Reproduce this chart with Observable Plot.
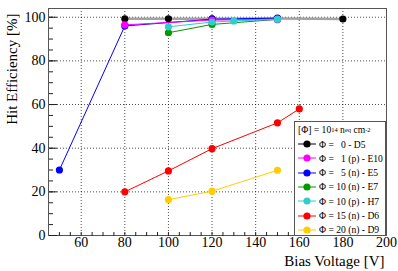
<!DOCTYPE html>
<html><head><meta charset="utf-8">
<script src="https://cdn.jsdelivr.net/npm/d3@7"></script>
<script src="https://cdn.jsdelivr.net/npm/@observablehq/plot@0.6"></script>
<style>
body{margin:0;background:#fff;font-family:"Liberation Serif","DejaVu Serif",serif;}
#wrap{position:relative;width:398px;height:271px;}
#legend{position:absolute;left:294px;top:121px;width:92px;height:115px;border:1px solid #555;background:#fff;box-sizing:border-box;font-family:"Liberation Serif","DejaVu Serif",serif;font-size:9.6px;color:#000;}
#legend .row{position:absolute;left:0;height:14px;display:flex;align-items:center;white-space:pre;}
#legend sup,#legend sub{font-size:6.5px;}
</style></head>
<body><div id="wrap"><div id="chart"></div><div id="legend"></div></div>
<script>
// Series (draw order)
const seriesNames = ["D5","E5","E7","E10","H7","D6","D9"];
const seriesColors = ["#000000","#0000ff","#009a00","#ff00ff","#33cccc","#ff0000","#ffcc00"];
const legendOrder = ["D5","E10","E5","E7","H7","D6","D9"];
const legendLabels = ["Φ =   0 - D5","Φ =   1 (p) - E10","Φ =   5 (n) - E5","Φ = 10 (n) - E7","Φ = 10 (p) - H7","Φ = 15 (n) - D6","Φ = 20 (n) - D9"];

const voltD5 = [80,100,120,150,180];   const effD5 = [99.3,99.3,99.3,99.4,99.2];
const voltE5 = [50,80,120,150];        const effE5 = [30,96,99.1,99.6];
const voltE7 = [100,120,150];          const effE7 = [92.9,96.7,99.0];
const voltE10 = [80,120,150];          const effE10 = [96.5,98.7,98.9];
const voltH7 = [100,120,130,150];      const effH7 = [95.6,97.8,98.3,99.1];
const voltD6 = [80,100,120,150,160];   const effD6 = [20,29.6,39.8,51.6,58];
const voltD9 = [100,120,150];          const effD9 = [16.4,20.3,29.9];

const xMajor = [60,80,100,120,140,160,180,200];
const xGrid = [60,80,100,120,140,160,180];
const xMinor = d3.range(50,200,5);
const yMajor = [0,20,40,60,80,100];
const yGrid = [20,40,60,80,100];
const yMinor = d3.range(5,104,5);

const raw = {D5:[voltD5,effD5],E5:[voltE5,effE5],E7:[voltE7,effE7],E10:[voltE10,effE10],H7:[voltH7,effH7],D6:[voltD6,effD6],D9:[voltD9,effD9]};
const data = seriesNames.flatMap(s => raw[s][0].map((v,i)=>({series:s, volt:v, eff:raw[s][1][i]})));
const font = "Liberation Serif";
const blank = () => "";

const chart = Plot.plot({
  width:398, height:271,
  marginLeft:48, marginRight:12, marginTop:8, marginBottom:36,
  style:{fontFamily:font, background:"#fff"},
  x:{domain:[45,200], axis:null},
  y:{domain:[0,104], axis:null},
  color:{domain:seriesNames, range:seriesColors},
  marks:[
    Plot.gridX(xGrid,{stroke:"#000",strokeOpacity:0.7,strokeDasharray:"1,2"}),
    Plot.gridY(yGrid,{stroke:"#000",strokeOpacity:0.7,strokeDasharray:"1,2"}),
    Plot.frame({stroke:"#555"}),
    Plot.axisX({ticks:xMinor, anchor:"top", frameAnchor:"bottom", tickSize:4, tickFormat:blank, label:null, stroke:"#222"}),
    Plot.axisY({ticks:yMinor, anchor:"right", frameAnchor:"left", tickSize:4, tickFormat:blank, label:null, stroke:"#222"}),
    Plot.axisY({ticks:yMajor, anchor:"right", frameAnchor:"left", tickSize:8, tickFormat:blank, label:null, stroke:"#222"}),
    Plot.axisX({ticks:xMajor, anchor:"bottom", tickSize:0, tickPadding:2, fontSize:14, fontFamily:font, fill:"#000", label:null}),
    Plot.axisY({ticks:yMajor, anchor:"left", tickSize:0, tickPadding:3, fontSize:14, fontFamily:font, fill:"#000", label:null}),
    Plot.line(data.filter(d=>d.series==="D5"),{x:"volt",y:"eff",stroke:"#999",strokeWidth:2.5,strokeOpacity:0.9}),
    Plot.line(data.filter(d=>d.series!=="D5"),{x:"volt",y:"eff",z:"series",stroke:"series",strokeWidth:1}),
    Plot.dot(data,{x:"volt",y:"eff",fill:"series",r:3.6}),
    Plot.text(["Bias Voltage [V]"],{frameAnchor:"bottom-right",dy:26,dx:-2,textAnchor:"end",lineAnchor:"middle",fontSize:15,fontFamily:font,fill:"#000"}),
    Plot.text(["Hit Efficiency [%]"],{frameAnchor:"top-left",rotate:-90,dx:-36,dy:5,textAnchor:"end",lineAnchor:"middle",fontSize:15,fontFamily:font,fill:"#000"})
  ]
});
document.getElementById("chart").appendChild(chart);

// Legend
const leg = document.getElementById("legend");
const title = document.createElement("div");
title.className="row"; title.style.top="0px"; title.style.left="3px"; title.style.height="15px";
title.innerHTML = "[Φ] = 10<sup>14</sup> n<sub>eq</sub> cm<sup>-2</sup>";
leg.appendChild(title);
legendOrder.forEach((s,i)=>{
  const c = seriesColors[seriesNames.indexOf(s)];
  const row = document.createElement("div");
  row.className="row"; row.style.top=(15+i*14.3)+"px";
  row.innerHTML = `<svg width="22" height="14" style="margin-left:2px"><line x1="1" x2="19" y1="7" y2="7" stroke="${c}" stroke-width="1"/><circle cx="10" cy="7" r="3.6" fill="${c}"/></svg><span>${legendLabels[i]}</span>`;
  leg.appendChild(row);
});
</script></body></html>
